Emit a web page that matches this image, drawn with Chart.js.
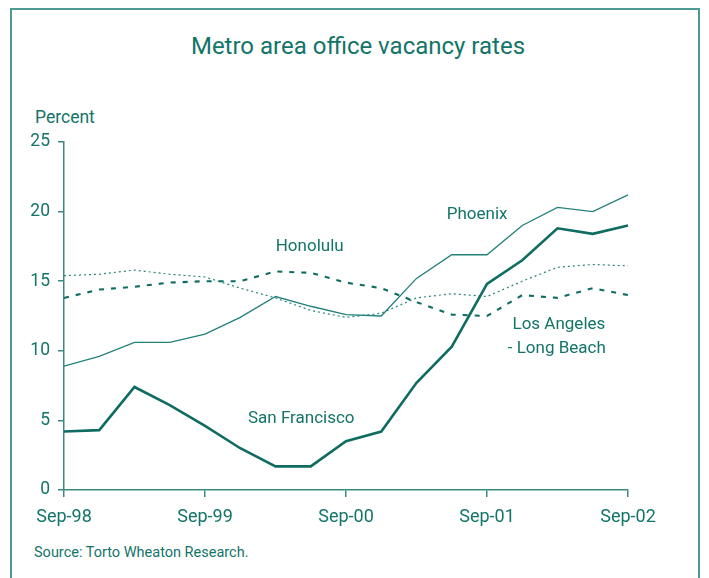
<!DOCTYPE html>
<html>
<head>
<meta charset="utf-8">
<script src="https://cdn.jsdelivr.net/npm/chart.js@4.4.0/dist/chart.umd.min.js"></script>
<style>
  html, body { margin: 0; padding: 0; background: #fff; }
  body { width: 709px; height: 578px; position: relative; overflow: hidden; font-family: Roboto, sans-serif; }
  #frame { position: absolute; left: 10px; top: 8px; width: 686px; height: 600px; border: 2px solid #4f9b93; }
  #wrap { position: absolute; left: 0; top: 0; width: 709px; height: 578px; }
  .txt { position: absolute; color: #137468; white-space: nowrap; }
  #title { left: 0; width: 716px; top: 32px; text-align: center; font-size: 24px; }
  #unit { left: 35px; top: 107px; font-size: 17.5px; }
  #source { left: 34px; top: 544px; font-size: 14.5px; }
</style>
</head>
<body>
<div id="frame"></div>
<div class="txt" id="title">Metro area office vacancy rates</div>
<div class="txt" id="unit">Percent</div>
<div class="txt" id="source">Source: Torto Wheaton Research.</div>
<div id="wrap"><canvas id="c" width="709" height="578"></canvas></div>
<script>
// quarterly, Sep-98 .. Sep-02
var quarters = ['Sep-98','Dec-98','Mar-99','Jun-99','Sep-99','Dec-99','Mar-00','Jun-00','Sep-00',
                'Dec-00','Mar-01','Jun-01','Sep-01','Dec-01','Mar-02','Jun-02','Sep-02'];

var sanFrancisco = [4.2, 4.3, 7.4, 6.1, 4.6, 3.0, 1.7, 1.7, 3.5, 4.2, 7.7, 10.3, 14.8, 16.5, 18.8, 18.4, 19.0];
var phoenix      = [8.9, 9.6, 10.6, 10.6, 11.2, 12.4, 13.9, 13.2, 12.6, 12.5, 15.2, 16.9, 16.9, 19.0, 20.3, 20.0, 21.2];
var honolulu     = [13.8, 14.4, 14.6, 14.9, 15.0, 15.0, 15.7, 15.6, 14.9, 14.5, 13.5, 12.6, 12.5, 14.0, 13.8, 14.5, 14.0];
var losAngeles   = [15.4, 15.5, 15.8, 15.5, 15.3, 14.5, 13.8, 12.9, 12.4, 12.7, 13.8, 14.1, 13.9, 15.0, 16.0, 16.2, 16.1];

var yTicks = [0, 5, 10, 15, 20, 25];

// text labels placed next to lines (category index, value)
var seriesLabels = [
  { text: 'Phoenix', x: 11.72, y: 19.8 },
  { text: 'Honolulu', x: 6.97, y: 17.45 },
  { text: 'Los Angeles', x: 14.04, y: 11.84 },
  { text: '- Long Beach', x: 13.98, y: 10.12 },
  { text: 'San Francisco', x: 6.73, y: 5.1 }
];

var teal = '#0f6c61';
var axisTeal = '#3a8a81';
var textTeal = '#137468';
var fontFam = 'Roboto, sans-serif';

var labelPlugin = {
  id: 'seriesLabels',
  afterDatasetsDraw(chart) {
    var ctx = chart.ctx;
    var xs = chart.scales.x, ys = chart.scales.y;
    ctx.save();
    ctx.fillStyle = textTeal;
    ctx.font = '17px ' + fontFam;
    ctx.textAlign = 'center';
    ctx.textBaseline = 'middle';
    seriesLabels.forEach(function (l) {
      ctx.fillText(l.text, xs.getPixelForValue(l.x), ys.getPixelForValue(l.y));
    });
    ctx.restore();
  }
};

function line(label, data, color, width, dash) {
  return { label: label, data: data, borderColor: color, borderWidth: width, borderDash: dash || [],
           pointRadius: 0, tension: 0, fill: false };
}

new Chart(document.getElementById('c').getContext('2d'), {
  type: 'line',
  data: {
    labels: quarters,
    datasets: [
      line('San Francisco', sanFrancisco, teal, 2.6),
      line('Phoenix', phoenix, '#23807a', 1.3),
      line('Honolulu', honolulu, teal, 2.1, [5, 7]),
      line('Los Angeles - Long Beach', losAngeles, '#2a857a', 1.2, [2, 3])
    ]
  },
  options: {
    responsive: false,
    animation: false,
    layout: { padding: { top: 142, left: 10, right: 81, bottom: 38 } },
    plugins: { legend: { display: false }, tooltip: { enabled: false } },
    scales: {
      x: {
        type: 'category',
        offset: false,
        border: { display: true, color: axisTeal, width: 1.5 },
        grid: { drawOnChartArea: false, drawTicks: true, tickLength: 7, color: axisTeal, lineWidth: 1.5 },
        ticks: {
          autoSkip: false, maxRotation: 0, padding: 10, color: textTeal,
          font: { family: fontFam, size: 18 },
          callback: function (v, i) { return i % 4 === 0 ? quarters[i] : null; }
        },
        afterFit: function (s) { s.height = 50; }
      },
      y: {
        min: 0, max: 25,
        border: { display: true, color: axisTeal, width: 1.5 },
        grid: { drawOnChartArea: false, drawTicks: true, tickLength: 6, color: axisTeal, lineWidth: 1.5 },
        ticks: {
          stepSize: 5, padding: 8, color: textTeal,
          font: { family: fontFam, size: 17.5 },
          callback: function (v) { return yTicks.indexOf(v) >= 0 ? v : null; }
        },
        afterFit: function (s) { s.width = 54; }
      }
    }
  },
  plugins: [labelPlugin]
});
</script>
</body>
</html>
